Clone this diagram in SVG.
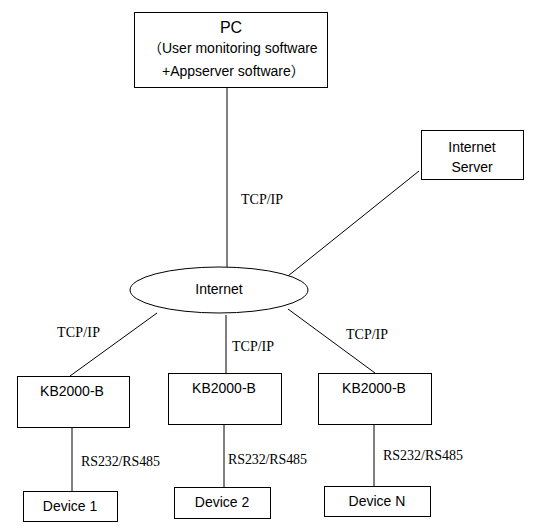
<svg xmlns="http://www.w3.org/2000/svg" width="539" height="531" viewBox="0 0 539 531">
<style>
.box{fill:#fff;stroke:#000;stroke-width:1}
.ln{stroke:#000;stroke-width:1;fill:none}
.s{font-family:"Liberation Sans","Noto Sans CJK SC",Arial,sans-serif;font-size:14px;fill:#000}
.r{font-family:"Liberation Serif","Times New Roman",serif;font-size:14px;fill:#000}
.c{text-anchor:middle}
</style>
<rect width="539" height="531" fill="#fff"/>
<g id="connectors">
<line class="ln" x1="227" y1="88" x2="227" y2="267"/>
<line class="ln" x1="419" y1="171" x2="288" y2="276"/>
<line class="ln" x1="157" y1="313" x2="70" y2="376"/>
<line class="ln" x1="226" y1="315" x2="226" y2="373"/>
<line class="ln" x1="288" y1="309" x2="375" y2="373"/>
<line class="ln" x1="72" y1="427" x2="72" y2="491"/>
<line class="ln" x1="224" y1="424" x2="224" y2="487"/>
<line class="ln" x1="374" y1="424" x2="374" y2="486"/>
<text class="r" x="241" y="204" textLength="42">TCP/IP</text>
<text class="r" x="57" y="337" textLength="43">TCP/IP</text>
<text class="r" x="232" y="351" textLength="42">TCP/IP</text>
<text class="r" x="346" y="339" textLength="42">TCP/IP</text>
<text class="r" x="81" y="466" textLength="79">RS232/RS485</text>
<text class="r" x="228" y="464" textLength="79">RS232/RS485</text>
<text class="r" x="383" y="460" textLength="80">RS232/RS485</text>
</g>
<g id="pc">
<rect class="box" x="134.5" y="12.5" width="193" height="75"/>
<text class="s c" x="231" y="33" style="font-size:16px">PC</text>
<text class="s" x="148" y="53">（User monitoring software</text>
<text class="s" x="162" y="76">+Appserver software）</text>
</g>
<g id="internet-server">
<rect class="box" x="421.5" y="130.5" width="102" height="49"/>
<text class="s c" x="472" y="152">Internet</text>
<text class="s c" x="472" y="172">Server</text>
</g>
<g id="internet">
<ellipse class="box" cx="219" cy="290" rx="89" ry="23"/>
<text class="s c" x="219" y="294">Internet</text>
</g>
<g id="kb1">
<rect class="box" x="17.5" y="376.5" width="112" height="51"/>
<text class="s c" x="72" y="396">KB2000-B</text>
</g>
<g id="kb2">
<rect class="box" x="168.5" y="373.5" width="113" height="51"/>
<text class="s c" x="224" y="393">KB2000-B</text>
</g>
<g id="kb3">
<rect class="box" x="318.5" y="373.5" width="113" height="51"/>
<text class="s c" x="374" y="393">KB2000-B</text>
</g>
<g id="device1">
<rect class="box" x="23.5" y="491.5" width="94" height="30"/>
<text class="s c" x="70" y="511">Device 1</text>
</g>
<g id="device2">
<rect class="box" x="174.5" y="487.5" width="96" height="31"/>
<text class="s c" x="222" y="507">Device 2</text>
</g>
<g id="deviceN">
<rect class="box" x="324.5" y="486.5" width="106" height="30"/>
<text class="s c" x="377" y="506">Device N</text>
</g>
</svg>
